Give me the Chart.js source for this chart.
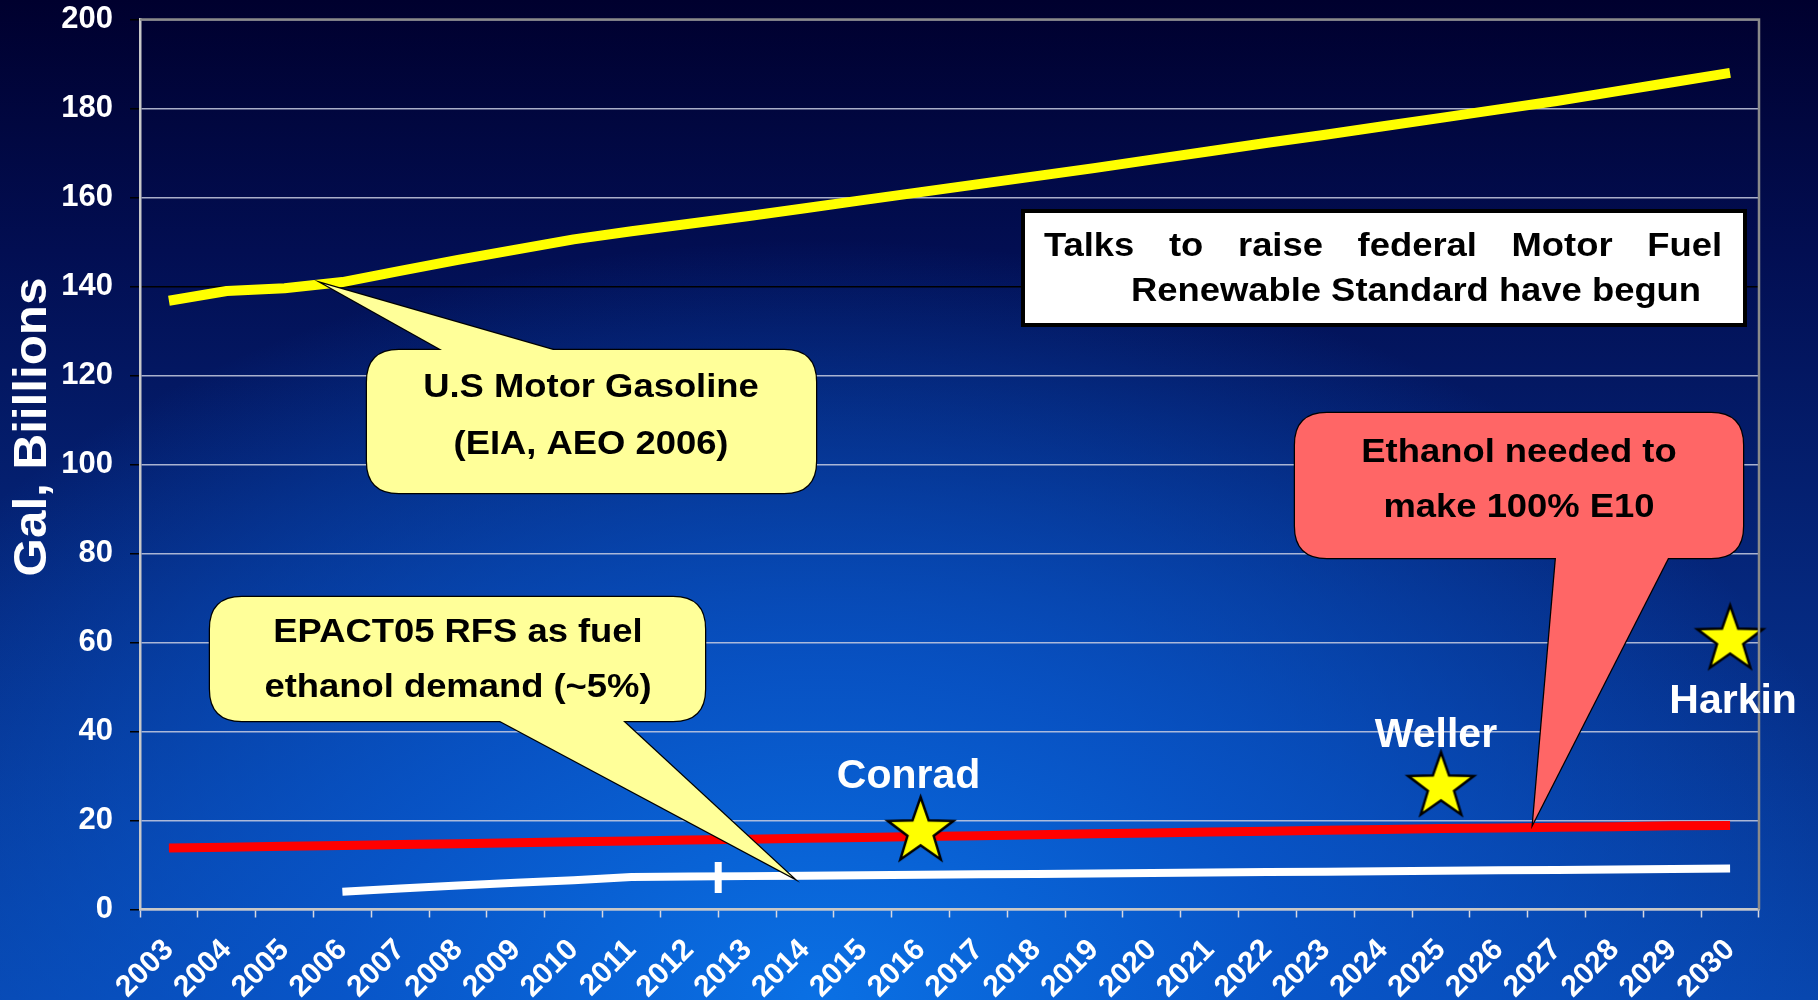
<!DOCTYPE html>
<html>
<head>
<meta charset="utf-8">
<script src="https://cdn.jsdelivr.net/npm/chart.js@4.4.0/dist/chart.umd.min.js"></script>
<style>
html, body { margin: 0; padding: 0; }
body {
    width: 1818px; height: 1000px; overflow: hidden;
    background:
        radial-gradient(ellipse 75% 95% at 45% 100%, rgba(10,112,228,1) 0%, rgba(8,88,205,0.85) 35%, rgba(5,50,150,0) 80%),
        linear-gradient(to bottom, #00002e 0%, #020e52 25%, #05287e 60%, #0844aa 100%);
}
canvas { display: block; }
</style>
</head>
<body>
<canvas id="grafica" width="1818" height="1000"></canvas>
<script>
(() => {
    const FONT = '"Liberation Sans", Arial, sans-serif';

    // datos
    const years = ['2003','2004','2005','2006','2007','2008','2009','2010','2011','2012','2013','2014','2015','2016',
                   '2017','2018','2019','2020','2021','2022','2023','2024','2025','2026','2027','2028','2029','2030'];
    const gasoline = [136.8, 139.0, 139.6, 141.0, 143.5, 146.0, 148.3, 150.6, 152.4, 154.1, 155.8, 157.6, 159.4, 161.2,
                      163.0, 164.8, 166.6, 168.5, 170.4, 172.3, 174.1, 176.0, 177.9, 179.8, 181.7, 183.8, 185.9, 188.0];
    const e10Ethanol = [13.8, 14.0, 14.2, 14.4, 14.6, 14.8, 15.0, 15.2, 15.4, 15.6, 15.8, 16.0, 16.2, 16.4,
                        16.6, 16.8, 17.0, 17.2, 17.4, 17.6, 17.8, 18.0, 18.2, 18.3, 18.5, 18.6, 18.8, 18.9];
    const rfsEthanol = [null, null, null, 4.0, 4.7, 5.4, 6.0, 6.6, 7.3, 7.4, 7.5, 7.6, 7.7, 7.8,
                        7.9, 8.0, 8.1, 8.2, 8.3, 8.4, 8.5, 8.6, 8.7, 8.8, 8.9, 9.0, 9.1, 9.2];
    const starNames = ['Conrad', 'Weller', 'Harkin'];
    const starYears = ['2016', '2025', '2030'];
    const starValues = [17.5, 27.6, 60.6];
    const markerYear = [2012.5];
    const markerValue = [7.2];
    const yMin = 0, yMax = 200, yStep = 20;

    const makeStar = (R) => {
        const c = document.createElement('canvas');
        const s = Math.ceil(2 * R + 8);
        c.width = s; c.height = s;
        const g = c.getContext('2d');
        g.translate(s / 2, s / 2);
        g.beginPath();
        for (let i = 0; i < 10; i++) {
            const r = i % 2 ? R * 0.4 : R;
            const ang = -Math.PI / 2 + i * Math.PI / 5;
            g.lineTo(r * Math.cos(ang), r * Math.sin(ang));
        }
        g.closePath();
        g.fillStyle = '#ffff00';
        g.fill();
        g.lineWidth = 2.5;
        g.strokeStyle = '#000';
        g.stroke();
        return c;
    };
    const star = makeStar(34.5);

    const roundRect = (ctx, x, y, w, h, r) => {
        ctx.beginPath();
        ctx.moveTo(x + r, y);
        ctx.lineTo(x + w - r, y);
        ctx.quadraticCurveTo(x + w, y, x + w, y + r);
        ctx.lineTo(x + w, y + h - r);
        ctx.quadraticCurveTo(x + w, y + h, x + w - r, y + h);
        ctx.lineTo(x + r, y + h);
        ctx.quadraticCurveTo(x, y + h, x, y + h - r);
        ctx.lineTo(x, y + r);
        ctx.quadraticCurveTo(x, y, x + r, y);
        ctx.closePath();
    };

    const text = (ctx, str, x, y, size, sx, color, align) => {
        ctx.save();
        ctx.translate(x, y);
        ctx.scale(sx, 1);
        ctx.font = 'bold ' + size + 'px ' + FONT;
        ctx.fillStyle = color;
        ctx.textAlign = align || 'center';
        ctx.textBaseline = 'middle';
        ctx.fillText(str, 0, 0);
        ctx.restore();
    };

    const callouts = [
        { x: 367, y: 350, w: 449, h: 143, r: 32, fill: '#ffff99', baseY: 350, base: [442, 553], tip: [324, 284],
          lines: ['U.S Motor Gasoline', '(EIA, AEO 2006)'], cx: 591, ly: [388, 445] },
        { x: 210, y: 597, w: 495, h: 124, r: 32, fill: '#ffff99', baseY: 721, base: [500, 623], tip: [792, 877],
          lines: ['EPACT05 RFS as fuel', 'ethanol demand (~5%)'], cx: 458, ly: [633, 688] },
        { x: 1295, y: 413, w: 448, h: 145, r: 32, fill: '#ff6666', baseY: 558, base: [1556, 1668], tip: [1533, 823],
          lines: ['Ethanol needed to', 'make 100% E10'], cx: 1519, ly: [453, 508] }
    ];

    const drawCallout = (ctx, c) => {
        ctx.save();
        ctx.lineWidth = 2.5;
        ctx.strokeStyle = '#000';
        ctx.fillStyle = c.fill;
        ctx.lineJoin = 'miter';
        const tri = () => {
            ctx.beginPath();
            ctx.moveTo(c.base[0], c.baseY);
            ctx.lineTo(c.tip[0], c.tip[1]);
            ctx.lineTo(c.base[1], c.baseY);
            ctx.closePath();
        };
        tri(); ctx.stroke();
        roundRect(ctx, c.x, c.y, c.w, c.h, c.r); ctx.stroke();
        tri(); ctx.fill();
        roundRect(ctx, c.x, c.y, c.w, c.h, c.r); ctx.fill();
        ctx.restore();
        c.lines.forEach((l, i) => text(ctx, l, c.cx, c.ly[i], 34, 1.07, '#000'));
    };

    const overlay = {
        id: 'overlay',
        afterDatasetsDraw(chart) {
            const ctx = chart.ctx;
            const a = chart.chartArea;

            // borde superior y derecho del area
            ctx.save();
            ctx.strokeStyle = '#8a8a8a';
            ctx.lineWidth = 2.5;
            ctx.beginPath();
            ctx.moveTo(a.left, a.top);
            ctx.lineTo(a.right, a.top);
            ctx.lineTo(a.right, a.bottom);
            ctx.stroke();
            ctx.restore();

            callouts.forEach(c => drawCallout(ctx, c));

            // cuadro blanco
            ctx.save();
            ctx.fillStyle = '#fff';
            ctx.fillRect(1021, 209, 726, 118);
            ctx.lineWidth = 4;
            ctx.strokeStyle = '#000';
            ctx.strokeRect(1023, 211, 722, 114);
            ctx.restore();
            const words = ['Talks', 'to', 'raise', 'federal', 'Motor', 'Fuel'];
            ctx.save();
            ctx.font = 'bold 34px ' + FONT;
            const ws = words.map(w => ctx.measureText(w).width * 1.07);
            ctx.restore();
            const gap = (1722 - 1044 - ws.reduce((s, v) => s + v, 0)) / (words.length - 1);
            let wx = 1044;
            words.forEach((w, i) => { text(ctx, w, wx, 247, 34, 1.07, '#000', 'left'); wx += ws[i] + gap; });
            text(ctx, 'Renewable Standard have begun', 1416, 292, 34, 1.07, '#000');

            // nombres de las estrellas
            const meta = chart.getDatasetMeta(0);
            const offs = [[-12, -55], [-5, -51], [3, 62]];
            meta.data.forEach((p, i) => {
                text(ctx, starNames[i], p.x + offs[i][0], p.y + offs[i][1], 41, 1, '#fff');
            });
        },
        afterDraw(chart) {
            const ctx = chart.ctx;
            ctx.save();
            ctx.translate(33, 427);
            ctx.rotate(-Math.PI / 2);
            ctx.scale(1.05, 1);
            ctx.font = 'bold 47px ' + FONT;
            ctx.fillStyle = '#fff';
            ctx.textAlign = 'center';
            ctx.textBaseline = 'middle';
            ctx.fillText('Gal, Biillions', 0, 0);
            ctx.restore();
        }
    };

    const grafica = new Chart(document.getElementById('grafica').getContext('2d'), {
        type: 'line',
        data: {
            labels: years,
            datasets: [
                {
                    label: 'Stars',
                    data: starYears.map((y, i) => ({ x: y, y: starValues[i] })),
                    showLine: false,
                    pointStyle: star,
                    pointRadius: 35
                },
                {
                    label: 'Marker',
                    xAxisID: 'xm',
                    data: markerYear.map((y, i) => ({ x: y, y: markerValue[i] })),
                    showLine: false,
                    pointStyle: 'line',
                    rotation: 90,
                    pointRadius: 15.5,
                    pointBorderWidth: 7,
                    pointBorderColor: '#ffffff'
                },
                {
                    label: 'EPACT05 RFS',
                    data: rfsEthanol,
                    borderColor: '#ffffff',
                    borderWidth: 8,
                    pointRadius: 0
                },
                {
                    label: 'E10',
                    data: e10Ethanol,
                    borderColor: '#ff0000',
                    borderWidth: 9,
                    pointRadius: 0
                },
                {
                    label: 'Gasoline',
                    data: gasoline,
                    borderColor: '#ffff00',
                    borderWidth: 10,
                    pointRadius: 0
                }
            ]
        },
        options: {
            responsive: false,
            animation: false,
            devicePixelRatio: 1,
            layout: { autoPadding: false, padding: { top: 19.5, right: 59, left: 0, bottom: 0 } },
            elements: { line: { tension: 0, borderCapStyle: 'butt', borderJoinStyle: 'round' } },
            plugins: { legend: { display: false }, tooltip: { enabled: false } },
            scales: {
                x: {
                    type: 'category',
                    offset: true,
                    afterFit: (s) => { s.height = 90.5; s.paddingLeft = 0; s.paddingRight = 0; },
                    grid: { offset: true, drawOnChartArea: false, tickLength: 8, tickColor: '#d8d8e0', tickWidth: 1.5 },
                    border: { color: '#c8c8c8', width: 2.5 },
                    ticks: {
                        autoSkip: false, minRotation: 45, maxRotation: 45, padding: 15,
                        color: '#ffffff', font: { family: FONT, size: 30, weight: 'bold' }
                    }
                },
                xm: {
                    type: 'linear',
                    display: false,
                    min: 2002.5,
                    max: 2030.5
                },
                y: {
                    min: yMin, max: yMax,
                    afterFit: (s) => { s.width = 140; s.paddingTop = 0; s.paddingBottom = 0; },
                    grid: {
                        color: (c) => c.tick && c.tick.value === 140 ? '#000000' : 'rgba(200,205,225,0.85)',
                        lineWidth: 1.5,
                        tickLength: 10,
                        tickColor: '#000000'
                    },
                    border: { color: '#c8c8c8', width: 2.5 },
                    ticks: {
                        stepSize: yStep, padding: 17,
                        color: '#ffffff', font: { family: FONT, size: 31, weight: 'bold' }
                    }
                }
            }
        },
        plugins: [overlay]
    });
})();
</script>
</body>
</html>
